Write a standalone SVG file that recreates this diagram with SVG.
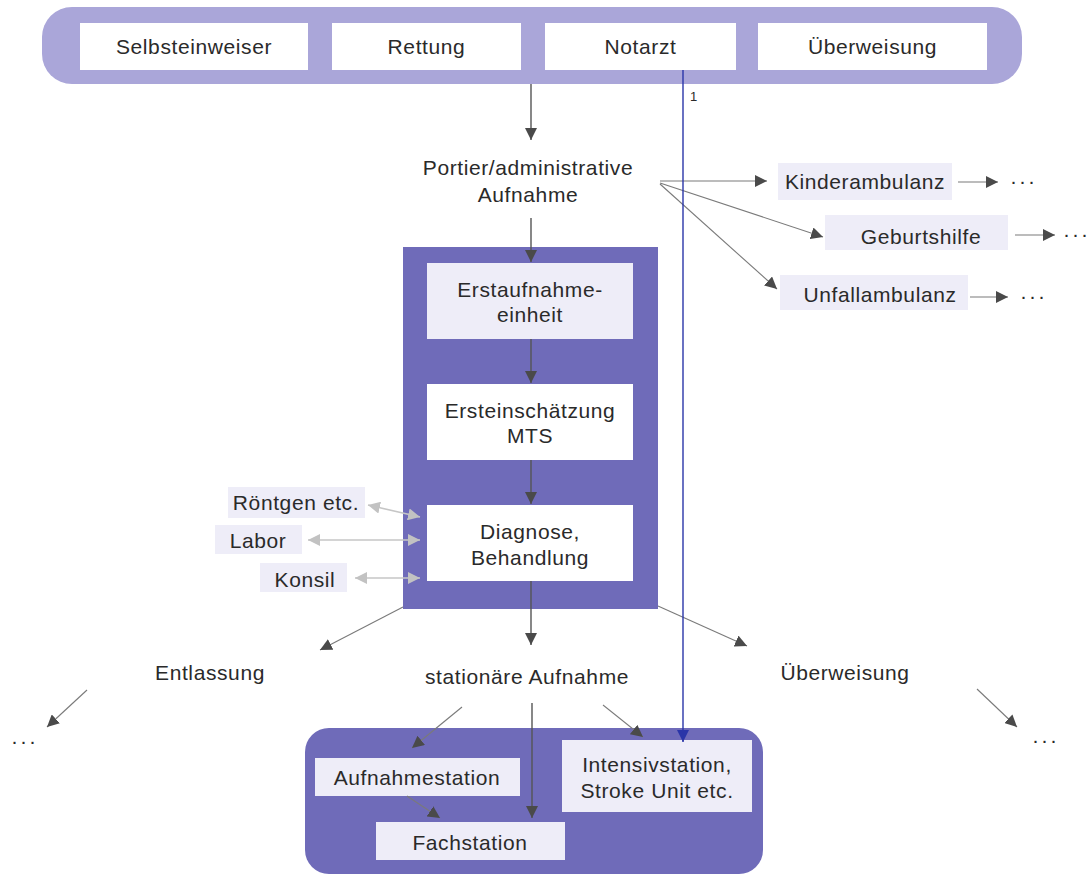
<svg xmlns="http://www.w3.org/2000/svg" width="1090" height="876" viewBox="0 0 1090 876">
<defs>
<style>
text{font-family:"Liberation Sans",Arial,sans-serif;font-size:21px;fill:#2a2a2a;letter-spacing:0.6px;text-anchor:middle}
.w{fill:#fff}
.lt{fill:#eeedf8}
.dk{fill:#6f6bb9}
.bar{fill:#aaa6d9}
.c{stroke:#555;stroke-width:1.4;fill:none}
.f{stroke:#7a7a7a;stroke-width:1.1;fill:none}
.g{stroke:#c6c6c6;stroke-width:1.6;fill:none}
.dots{text-anchor:start;letter-spacing:2px}
</style>
<marker id="ah" viewBox="0 0 12 12" refX="12" refY="6" markerWidth="12" markerHeight="12" markerUnits="userSpaceOnUse" orient="auto"><path d="M0,0 L12,6 L0,12 z" fill="#4a4a4a"/></marker>
<marker id="ahg" viewBox="0 0 12 12" refX="12" refY="6" markerWidth="12" markerHeight="12" markerUnits="userSpaceOnUse" orient="auto-start-reverse"><path d="M0,0 L12,6 L0,12 z" fill="#c2c2c2"/></marker>
<marker id="ahb" viewBox="0 0 12 12" refX="12" refY="6" markerWidth="12" markerHeight="12" markerUnits="userSpaceOnUse" orient="auto"><path d="M0,0 L12,6 L0,12 z" fill="#2a35a8"/></marker>
</defs>
<rect width="1090" height="876" fill="#fff"/>

<g id="source-bar">
<rect class="bar" x="42" y="7" width="980" height="77" rx="30"/>
</g>
<g id="selbsteinweiser"><rect class="w" x="80" y="23" width="228" height="47"/><text x="194" y="54">Selbsteinweiser</text></g>
<g id="rettung"><rect class="w" x="332" y="23" width="189" height="47"/><text x="426.5" y="54">Rettung</text></g>
<g id="notarzt"><rect class="w" x="545" y="23" width="191" height="47"/><text x="640.5" y="54">Notarzt</text></g>
<g id="ueberweisung-top"><rect class="w" x="758" y="23" width="229" height="47"/><text x="872.5" y="54">Überweisung</text></g>

<g id="portier"><text x="528" y="175">Portier/administrative</text><text x="528" y="202">Aufnahme</text></g>

<g id="kinderambulanz"><rect class="lt" x="778" y="163" width="174" height="37"/><text x="865" y="189">Kinderambulanz</text></g>
<g id="geburtshilfe"><rect class="lt" x="825" y="215" width="183" height="35"/><text x="921" y="244">Geburtshilfe</text></g>
<g id="unfallambulanz"><rect class="lt" x="780" y="275" width="188" height="35"/><text x="880" y="302">Unfallambulanz</text></g>
<g id="dots-right"><text class="dots" x="1010" y="188">···</text><text class="dots" x="1063" y="241">···</text><text class="dots" x="1020" y="303">···</text></g>

<g id="zna-frame"><rect class="dk" x="403" y="247" width="255" height="362"/></g>
<g id="erstaufnahme"><rect class="lt" x="427" y="263" width="206" height="76"/><text x="530" y="297">Erstaufnahme-</text><text x="530" y="322">einheit</text></g>
<g id="ersteinschaetzung"><rect class="w" x="427" y="384" width="206" height="76"/><text x="530" y="418">Ersteinschätzung</text><text x="530" y="443">MTS</text></g>
<g id="diagnose"><rect class="w" x="427" y="505" width="206" height="76"/><text x="530" y="539">Diagnose,</text><text x="530" y="565">Behandlung</text></g>

<g id="roentgen"><rect class="lt" x="228" y="487" width="137" height="31"/><text x="296" y="510">Röntgen etc.</text></g>
<g id="labor"><rect class="lt" x="215" y="525" width="87" height="29"/><text x="258" y="548">Labor</text></g>
<g id="konsil"><rect class="lt" x="260" y="563" width="87" height="29"/><text x="305" y="587">Konsil</text></g>

<g id="entlassung"><text x="210" y="680">Entlassung</text></g>
<g id="stationaer"><text x="527" y="684">stationäre Aufnahme</text></g>
<g id="ueberweisung-bottom"><text x="845" y="680">Überweisung</text></g>
<g id="dots-bottom"><text class="dots" x="11" y="748">···</text><text class="dots" x="1032" y="747">···</text></g>

<g id="station-frame"><rect class="dk" x="305" y="728" width="458" height="146" rx="24"/></g>
<g id="aufnahmestation"><rect class="lt" x="315" y="758" width="205" height="38"/><text x="417" y="785">Aufnahmestation</text></g>
<g id="fachstation"><rect class="lt" x="376" y="822" width="189" height="38"/><text x="470" y="850">Fachstation</text></g>
<g id="intensivstation"><rect class="lt" x="562" y="740" width="190" height="72"/><text x="657" y="772">Intensivstation,</text><text x="657" y="798">Stroke Unit etc.</text></g>

<g id="connectors">
<line class="c" x1="531" y1="84" x2="531" y2="140" marker-end="url(#ah)"/>
<line class="c" x1="531" y1="218" x2="531" y2="262" marker-end="url(#ah)"/>
<line class="c" x1="531" y1="339" x2="531" y2="383" marker-end="url(#ah)"/>
<line class="c" x1="531" y1="460" x2="531" y2="504" marker-end="url(#ah)"/>
<line class="c" x1="531" y1="581" x2="531" y2="645" marker-end="url(#ah)"/>
<line class="f" x1="403" y1="607" x2="320" y2="650" marker-end="url(#ah)"/>
<line class="f" x1="658" y1="606" x2="747" y2="646" marker-end="url(#ah)"/>
<line class="f" x1="87" y1="690" x2="47" y2="727" marker-end="url(#ah)"/>
<line class="f" x1="977" y1="689" x2="1017" y2="727" marker-end="url(#ah)"/>
<line class="f" x1="660" y1="181" x2="767" y2="181" marker-end="url(#ah)"/>
<line class="f" x1="660" y1="183" x2="823" y2="237" marker-end="url(#ah)"/>
<line class="f" x1="660" y1="184" x2="777" y2="289" marker-end="url(#ah)"/>
<line class="f" x1="958" y1="182" x2="998" y2="182" marker-end="url(#ah)"/>
<line class="f" x1="1015" y1="235" x2="1055" y2="235" marker-end="url(#ah)"/>
<line class="f" x1="970" y1="297" x2="1008" y2="297" marker-end="url(#ah)"/>
<line class="g" x1="368" y1="505" x2="420" y2="517" marker-start="url(#ahg)" marker-end="url(#ahg)"/>
<line class="g" x1="308" y1="540" x2="420" y2="540" marker-start="url(#ahg)" marker-end="url(#ahg)"/>
<line class="g" x1="355" y1="578" x2="420" y2="578" marker-start="url(#ahg)" marker-end="url(#ahg)"/>
<line class="f" x1="462" y1="707" x2="412" y2="748" marker-end="url(#ah)"/>
<line class="c" x1="532" y1="703" x2="532" y2="818" marker-end="url(#ah)"/>
<line class="f" x1="603" y1="705" x2="643" y2="737" marker-end="url(#ah)"/>
<line class="f" x1="407" y1="796" x2="440" y2="818" marker-end="url(#ah)"/>
<line x1="683" y1="70" x2="683" y2="742" stroke="#2a35a8" stroke-width="1.4" marker-end="url(#ahb)"/>
<text x="690" y="101" style="font-size:13px;text-anchor:start;letter-spacing:0">1</text>
</g>
</svg>
